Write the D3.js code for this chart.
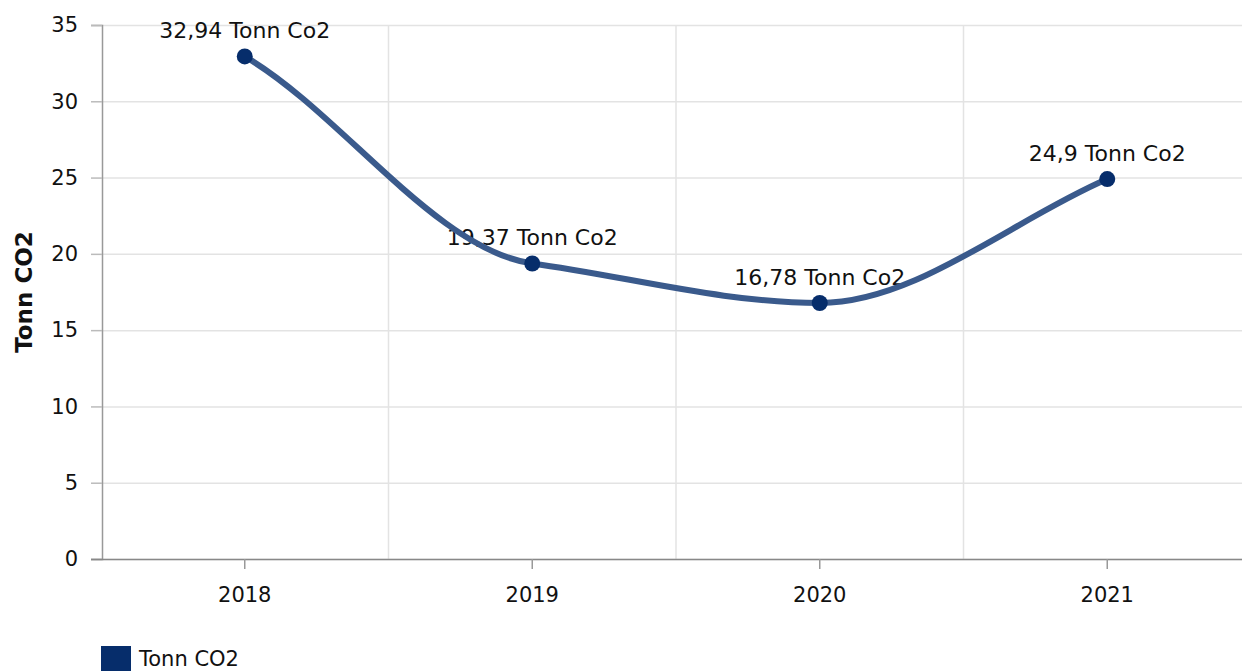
<!DOCTYPE html>
<html>
<head>
<meta charset="utf-8">
<script src="https://cdn.jsdelivr.net/npm/d3@7"></script>
<style>
  body { margin: 0; background: #fff; }
  svg { display: block; font-family: "DejaVu Sans", Verdana, sans-serif; }
</style>
</head>
<body>
<div id="chart"></div>
<script>
const years = ['2018', '2019', '2020', '2021'];
const values = [32.94, 19.37, 16.78, 24.9];
const pointLabels = ['32,94 Tonn Co2', '19,37 Tonn Co2', '16,78 Tonn Co2', '24,9 Tonn Co2'];
const yTicks = [0, 5, 10, 15, 20, 25, 30, 35];
const seriesName = 'Tonn CO2';

const width = 1242;
const height = 671;
const margin = { top: 25, right: 0, bottom: 112, left: 102 };

const svg = d3.select('#chart')
  .append('svg')
  .attr('width', width)
  .attr('height', height);

const x = d3.scaleBand()
  .domain(years)
  .range([101, 1251]);

const y = d3.scaleLinear()
  .domain([0, 35])
  .range([height - margin.bottom, margin.top]);

// horizontal grid
svg.append('g')
  .selectAll('line')
  .data(yTicks)
  .join('line')
  .attr('x1', margin.left)
  .attr('x2', width)
  .attr('y1', d => y(d) + 0.5)
  .attr('y2', d => y(d) + 0.5)
  .attr('stroke', '#e3e3e3')
  .attr('stroke-width', 1.5);

// vertical grid between categories
svg.append('g')
  .selectAll('line')
  .data(years.slice(1))
  .join('line')
  .attr('x1', d => x(d))
  .attr('x2', d => x(d))
  .attr('y1', y(35))
  .attr('y2', y(0))
  .attr('stroke', '#e3e3e3')
  .attr('stroke-width', 1.5);

// y axis
const yAxis = svg.append('g')
  .attr('transform', `translate(${margin.left},0)`)
  .call(d3.axisLeft(y).tickValues(yTicks).tickSize(11).tickPadding(13));
yAxis.select('.domain').attr('stroke', '#999').attr('stroke-width', 1.5);
yAxis.selectAll('.tick line').attr('stroke', '#bbb').attr('stroke-width', 1.5);
yAxis.selectAll('text')
  .attr('fill', '#111')
  .style('font-size', '21px')
  .style('font-family', '"DejaVu Sans", Verdana, sans-serif');

// x axis
const xAxis = svg.append('g')
  .attr('transform', `translate(0,${y(0)})`)
  .call(d3.axisBottom(x).tickSize(10).tickPadding(18).tickSizeOuter(0));
xAxis.select('.domain')
  .attr('d', `M${margin.left - 11},0.5H${width}`)
  .attr('stroke', '#888').attr('stroke-width', 1.5);
xAxis.selectAll('.tick line').attr('stroke', '#999').attr('stroke-width', 1.5);
xAxis.selectAll('text')
  .attr('fill', '#111')
  .style('font-size', '21px')
  .style('font-family', '"DejaVu Sans", Verdana, sans-serif');

// y axis title
svg.append('text')
  .attr('transform', `translate(32,${(y(0) + y(35)) / 2}) rotate(-90)`)
  .attr('text-anchor', 'middle')
  .style('font-size', '23px')
  .style('font-weight', 'bold')
  .attr('fill', '#111')
  .text('Tonn CO2');

const data = years.map((d, i) => ({ year: d, value: values[i], label: pointLabels[i] }));
const cx = d => x(d.year) + x.bandwidth() / 2;

// data labels (the line runs over them in the reference)
svg.append('g')
  .selectAll('text')
  .data(data)
  .join('text')
  .attr('x', cx)
  .attr('y', d => y(d.value) - 18)
  .attr('text-anchor', 'middle')
  .style('font-size', '22px')
  .attr('fill', '#111')
  .text(d => d.label);

// smooth line: cubic hermite, flat at extremes, gentle tangents elsewhere
function smoothPath(pts) {
  const n = pts.length;
  const s = [];
  for (let i = 0; i < n - 1; i++) {
    s.push((pts[i + 1][1] - pts[i][1]) / (pts[i + 1][0] - pts[i][0]));
  }
  const m = new Array(n).fill(0);
  for (let i = 1; i < n - 1; i++) {
    if (s[i - 1] * s[i] > 0) {
      m[i] = Math.sign(s[i]) * Math.min(Math.abs(s[i - 1]), Math.abs(s[i]));
    }
  }
  m[0] = s[0] - m[1];
  m[n - 1] = s[n - 2] - m[n - 2];

  const p = d3.path();
  p.moveTo(pts[0][0], pts[0][1]);
  for (let i = 0; i < n - 1; i++) {
    const [x0, y0] = pts[i], [x1, y1] = pts[i + 1];
    const h = (x1 - x0) / 3;
    p.bezierCurveTo(x0 + h, y0 + m[i] * h, x1 - h, y1 - m[i + 1] * h, x1, y1);
  }
  return p.toString();
}

svg.append('path')
  .attr('d', smoothPath(data.map(d => [cx(d), y(d.value)])))
  .attr('fill', 'none')
  .attr('stroke', '#3a5a8c')
  .attr('stroke-width', 6)
  .attr('stroke-linecap', 'round');

// markers
svg.append('g')
  .selectAll('circle')
  .data(data)
  .join('circle')
  .attr('cx', cx)
  .attr('cy', d => y(d.value))
  .attr('r', 8)
  .attr('fill', '#062d6b');

// legend
const legend = svg.append('g').attr('transform', 'translate(101,646)');
legend.append('rect')
  .attr('width', 30)
  .attr('height', 30)
  .attr('fill', '#062d6b');
legend.append('text')
  .attr('x', 38)
  .attr('y', 20)
  .style('font-size', '21px')
  .attr('fill', '#111')
  .text(seriesName);
</script>
</body>
</html>
